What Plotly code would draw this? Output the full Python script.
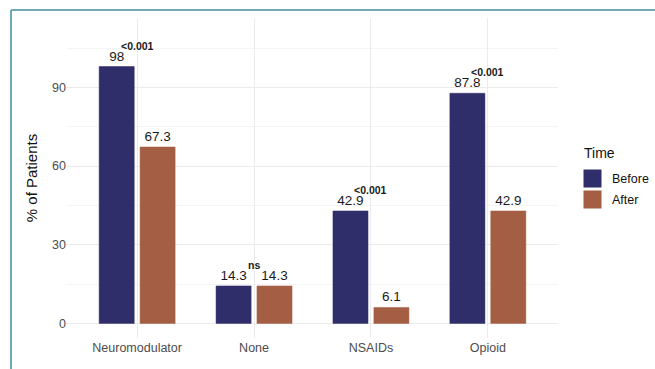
import plotly.graph_objects as go

categories = ["Neuromodulator", "None", "NSAIDs", "Opioid"]
series_names = ["Before", "After"]
before = [98, 14.3, 42.9, 87.8]
after = [67.3, 14.3, 6.1, 42.9]
p_labels = ["<0.001", "ns", "<0.001", "<0.001"]
y_ticks = [0, 30, 60, 90]

colors = ["#302D6B", "#A45E44"]
FONT = "Liberation Sans, Arial, sans-serif"

fig = go.Figure()
for name, vals, col in zip(series_names, [before, after], colors):
    fig.add_trace(go.Bar(
        x=categories, y=vals, name=name,
        marker=dict(color=col, line=dict(color=col, width=0.5)),
        text=[f"{v:g}" for v in vals], textposition="outside",
        textfont=dict(family=FONT, size=13.5, color="#1a1a1a"),
        constraintext="none", cliponaxis=False, showlegend=False,
    ))

annotations = []
for i, (c, p) in enumerate(zip(categories, p_labels)):
    annotations.append(dict(
        x=i, y=max(before[i], after[i]), xref="x", yref="y",
        text=f"<b>{p}</b>", showarrow=False, yshift=21,
        font=dict(family=FONT, size=10.5, color="#1a1a1a"),
        xanchor="center", yanchor="middle",
    ))

# plot area in px: x 67..558, y 18..338 (fig 655x369)
L, R, T, B = 67, 97, 18, 31
W, H = 655, 369
pw, ph = W - L - R, H - T - B

def px_x(x):
    return (x - L) / pw

def px_y(y):
    return (H - B - y) / ph

# legend (manual)
annotations.append(dict(x=px_x(582), y=px_y(153), xref="paper", yref="paper",
                        text="Time", showarrow=False, xanchor="left", yanchor="middle",
                        font=dict(family=FONT, size=14, color="#111")))
shapes = []
for k, (name, col) in enumerate(zip(series_names, colors)):
    y0 = 169 + k * 21
    shapes.append(dict(type="rect", xref="paper", yref="paper",
                       x0=px_x(583), x1=px_x(602), y0=px_y(y0), y1=px_y(y0 + 19),
                       fillcolor=col, line=dict(color="#ffffff", width=1)))
    annotations.append(dict(x=px_x(610), y=px_y(y0 + 10), xref="paper", yref="paper",
                            text=name, showarrow=False, xanchor="left", yanchor="middle",
                            font=dict(family=FONT, size=12.5, color="#111")))

# frame lines
shapes.append(dict(type="line", xref="paper", yref="paper",
                   x0=px_x(11), x1=px_x(660), y0=px_y(10), y1=px_y(10),
                   line=dict(color="#6FA9B7", width=2)))
shapes.append(dict(type="line", xref="paper", yref="paper",
                   x0=px_x(11), x1=px_x(11), y0=px_y(10), y1=px_y(372),
                   line=dict(color="#6FA9B7", width=2)))

fig.update_layout(
    width=W, height=H,
    margin=dict(l=L, r=R, t=T, b=B),
    paper_bgcolor="white", plot_bgcolor="white",
    barmode="group", bargap=0.3, bargroupgap=0.143,
    annotations=annotations, shapes=shapes,
    showlegend=False,
    font=dict(family=FONT),
)
fig.update_xaxes(
    range=[-0.6, 3.6], showgrid=True, gridcolor="#EBEBEB", gridwidth=1,
    showline=False, zeroline=False, ticks="",
    tickfont=dict(family=FONT, size=12.5, color="#4D4D4D"),
)
fig.update_yaxes(
    range=[-5.56, 116.5], tickvals=y_ticks, showgrid=True, gridcolor="#EBEBEB", gridwidth=1,
    minor=dict(tickvals=[15, 45, 75, 105], showgrid=True, gridcolor="#F4F4F4", gridwidth=1),
    zeroline=False, showline=False, ticks="",
    tickfont=dict(family=FONT, size=12.5, color="#4D4D4D"),
    title=dict(text="% of Patients", font=dict(family=FONT, size=15, color="#111"), standoff=10),
)

fig.write_html("out.html")
